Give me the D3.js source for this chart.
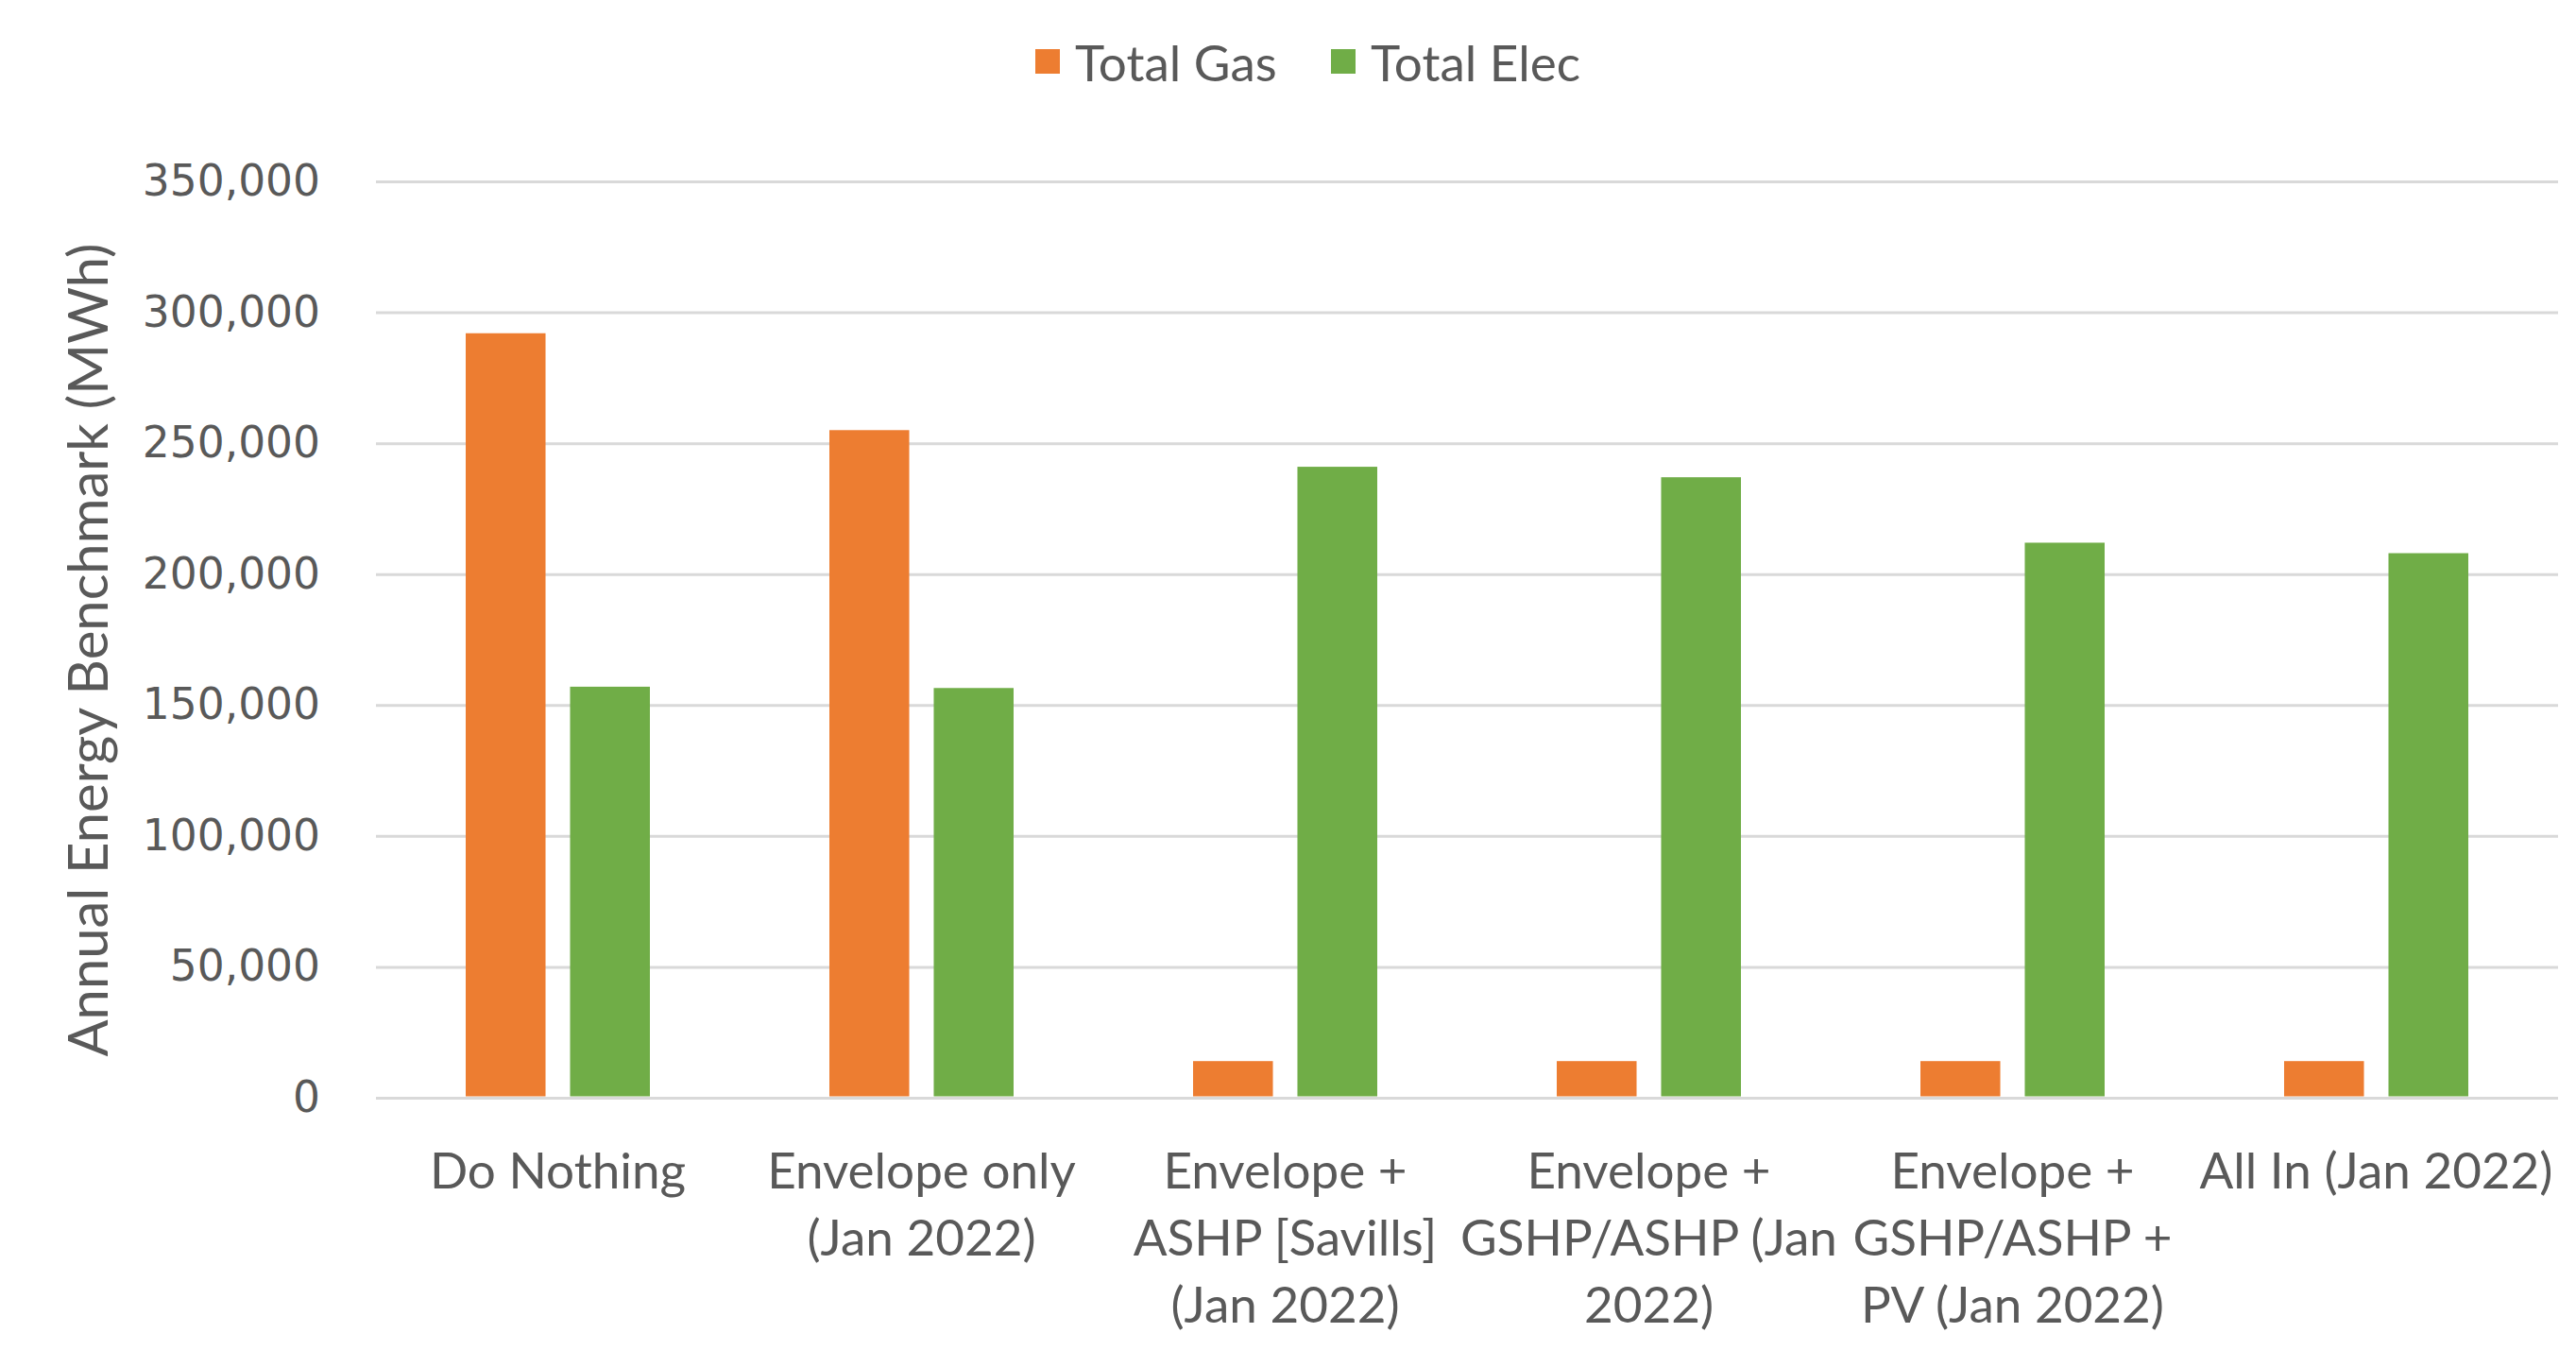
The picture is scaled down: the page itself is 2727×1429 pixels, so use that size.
<!DOCTYPE html>
<html>
<head>
<meta charset="utf-8">
<script src="https://cdn.jsdelivr.net/npm/d3@7"></script>
<style>
  html, body { margin: 0; padding: 0; background: #ffffff; }
  svg { display: block; }
</style>
</head>
<body>
<svg id="chart" width="2727" height="1429"></svg>
<script>
const categories = [
  "Do Nothing",
  "Envelope only (Jan 2022)",
  "Envelope + ASHP [Savills] (Jan 2022)",
  "Envelope + GSHP/ASHP (Jan 2022)",
  "Envelope + GSHP/ASHP + PV (Jan 2022)",
  "All In (Jan 2022)"
];
const categoryLines = [
  ["Do Nothing"],
  ["Envelope only", "(Jan 2022)"],
  ["Envelope +", "ASHP [Savills]", "(Jan 2022)"],
  ["Envelope +", "GSHP/ASHP (Jan", "2022)"],
  ["Envelope +", "GSHP/ASHP +", "PV (Jan 2022)"],
  ["All In (Jan 2022)"]
];
const seriesNames = ["Total Gas", "Total Elec"];
const totalGas  = [292000, 255000, 14000, 14000, 14000, 14000];
const totalElec = [157000, 156500, 241000, 237000, 212000, 208000];
const yTicks = [0, 50000, 100000, 150000, 200000, 250000, 300000, 350000];
const yTitle = "Annual Energy Benchmark (MWh)";

const colors = {"Total Gas": "#ED7D31", "Total Elec": "#70AD47"};
const values = {"Total Gas": totalGas, "Total Elec": totalElec};

(function () {
const svg = d3.select("#chart");
const pLeft = 398, pRight = 2708, pTop = 192, pBottom = 1162;
const textColor = "#595959";

const y = d3.scaleLinear().domain([0, 350000]).range([pBottom, pTop]);
const x0 = d3.scaleBand().domain(categories).range([pLeft, pRight])
  .paddingInner(0.4935).paddingOuter(0.4935 / 2);
const x1 = d3.scaleBand().domain(seriesNames).range([0, x0.bandwidth()])
  .paddingInner(0.235).paddingOuter(0);

// Gridlines + y axis
const yAxis = d3.axisLeft(y).tickValues(yTicks).tickFormat(d3.format(","))
  .tickSize(-(pRight - pLeft)).tickPadding(59);
const gy = svg.append("g").attr("transform", `translate(${pLeft},0)`).call(yAxis);
gy.select(".domain").remove();
gy.selectAll(".tick line").attr("stroke", "#D9D9D9").attr("stroke-width", 3);
gy.selectAll(".tick text")
  .attr("fill", textColor)
  .style("font-family", "'DejaVu Sans', sans-serif")
  .style("font-size", "45.5px");

// Bars
const groups = svg.append("g").selectAll("g").data(categories).join("g")
  .attr("transform", d => `translate(${x0(d)},0)`);
groups.selectAll("rect")
  .data((c, i) => seriesNames.map(s => ({s, v: values[s][i]})))
  .join("rect")
  .attr("x", d => x1(d.s))
  .attr("width", x1.bandwidth())
  .attr("y", d => y(d.v))
  .attr("height", d => y(0) - y(d.v) - 1.5)
  .attr("fill", d => colors[d.s]);

// X axis labels
const xAxis = d3.axisBottom(x0).tickSize(0).tickPadding(0);
const gx = svg.append("g").attr("transform", `translate(0,${pBottom})`).call(xAxis);
gx.select(".domain").remove();
gx.selectAll(".tick text").each(function(d, i) {
  const t = d3.select(this);
  t.text(null)
    .attr("fill", textColor)
    .attr("y", 0)
    .attr("dy", null)
    .style("font-family", "Lato, 'Open Sans', sans-serif")
    .style("font-size", "53px");
  categoryLines[i].forEach((line, j) => {
    t.append("tspan").attr("x", 0).attr("y", 96 + j * 71).text(line);
  });
});

// Y axis title
svg.append("text")
  .attr("transform", `translate(99,688) rotate(-90)`)
  .attr("text-anchor", "middle")
  .attr("dominant-baseline", "middle")
  .attr("fill", textColor)
  .style("font-family", "Lato, 'Open Sans', sans-serif")
  .style("font-size", "58px")
  .text(yTitle);

// Legend
const legendItems = [
  {name: "Total Gas", x: 1096},
  {name: "Total Elec", x: 1409}
];
const lg = svg.append("g").selectAll("g").data(legendItems).join("g")
  .attr("transform", d => `translate(${d.x},52)`);
lg.append("rect").attr("width", 26).attr("height", 26)
  .attr("fill", d => colors[d.name]);
lg.append("text")
  .attr("x", 42).attr("y", 13).attr("dominant-baseline", "central")
  .attr("fill", textColor)
  .style("font-family", "Lato, 'Open Sans', sans-serif")
  .style("font-size", "53px")
  .text(d => d.name);
})();
</script>
</body>
</html>
